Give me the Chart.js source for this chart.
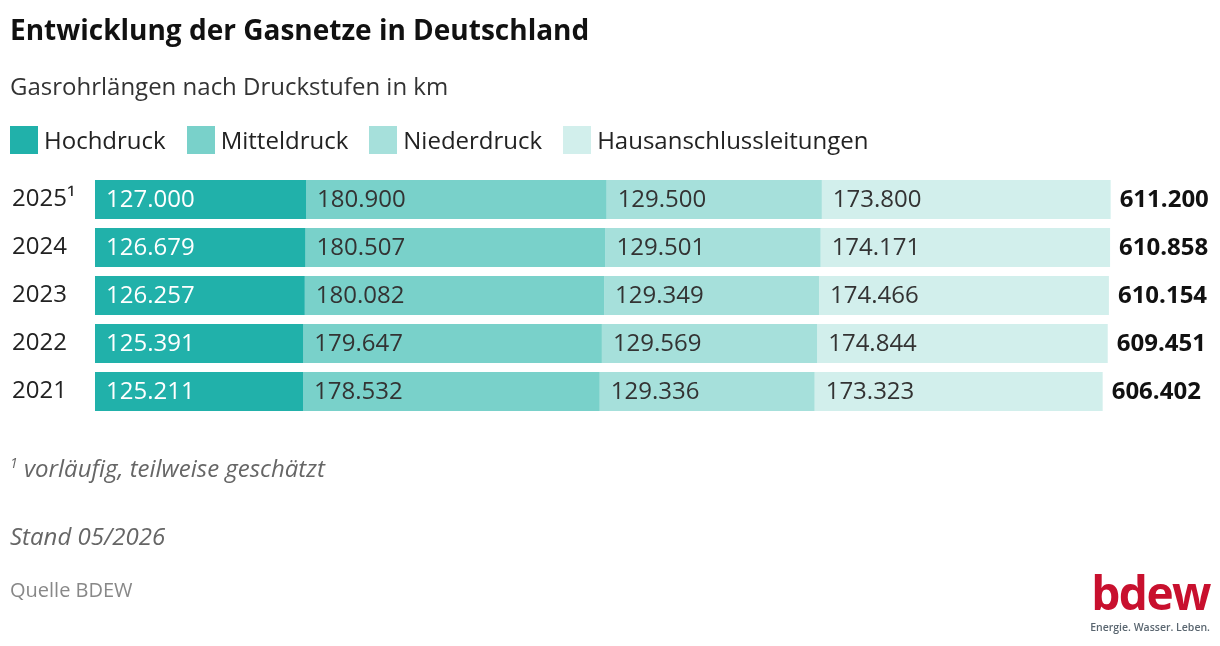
<!DOCTYPE html>
<html lang="de">
<head>
<meta charset="utf-8">
<title>Entwicklung der Gasnetze in Deutschland</title>
<script src="https://cdn.jsdelivr.net/npm/chart.js@4"></script>
<style>
  html, body { margin: 0; padding: 0; background: #fff; }
  body { width: 1220px; height: 646px; position: relative; overflow: hidden; font-family: "Open Sans", sans-serif; color: #222; }
  #chart { position: absolute; left: 0; top: 0; }
  .txt { position: absolute; white-space: nowrap; line-height: 1; }
  #title { left: 10px; top: 15px; font-size: 28px; font-weight: 700; color: #111; }
  #subtitle { left: 10px; top: 74px; font-size: 24px; color: #333; }
  #legend { position: absolute; left: 10px; top: 126px; display: flex; font-size: 24px; line-height: 1; color: #222; }
  .item { display: flex; align-items: center; margin-right: 21px; height: 28px; }
  .box { width: 28px; height: 28px; margin-right: 6px; }
  #note { left: 10px; top: 456px; font-size: 24px; font-style: italic; color: #666; }
  #stand { left: 10px; top: 524px; font-size: 24px; font-style: italic; color: #666; }
  #source { left: 10px; top: 580px; font-size: 20px; color: #888; }
  #logo { right: 10px; top: 569px; font-size: 46px; font-weight: 700; color: #c8102e; letter-spacing: -1.5px; }
  #claim { right: 10px; top: 622px; font-size: 10.5px; font-weight: 600; color: #5a6670; }
</style>
</head>
<body>
<canvas id="chart" width="1220" height="646"></canvas>
<div class="txt" id="title">Entwicklung der Gasnetze in Deutschland</div>
<div class="txt" id="subtitle">Gasrohrlängen nach Druckstufen in km</div>
<div id="legend"></div>
<div class="txt" id="note"><sup style="font-size:14px">1</sup> vorläufig, teilweise geschätzt</div>
<div class="txt" id="stand">Stand 05/2026</div>
<div class="txt" id="source">Quelle BDEW</div>
<div class="txt" id="logo">bdew</div>
<div class="txt" id="claim">Energie. Wasser. Leben.</div>
<script>
// years, newest first
const years = ["2025¹", "2024", "2023", "2022", "2021"]

// km per pressure level
const hochdruck = [127000, 126679, 126257, 125391, 125211]
const mitteldruck = [180900, 180507, 180082, 179647, 178532]
const niederdruck = [129500, 129501, 129349, 129569, 129336]
const hausanschluss = [173800, 174171, 174466, 174844, 173323]

const seriesNames = ["Hochdruck", "Mitteldruck", "Niederdruck", "Hausanschlussleitungen"]
const seriesColours = ["#21b1aa", "#79d1ca", "#a6e0db", "#d2efec"]
const labelColours = ["#ffffff", "#333333", "#333333", "#333333"]

// german thousands separator
function fmt(n) {
  return String(n).replace(/\B(?=(\d{3})+(?!\d))/g, ".")
}

// build html legend
const legend = document.getElementById("legend")
seriesNames.forEach((name, i) => {
  legend.innerHTML += `<div class="item"><div class="box" style="background:${seriesColours[i]}"></div>${name}</div>`
})

// draws the values inside the bars and the totals after them
const barLabels = {
  id: "barLabels",
  afterDatasetsDraw(chart) {
    const ctx = chart.ctx
    ctx.save()
    ctx.textBaseline = "middle"
    ctx.textAlign = "left"
    chart.data.datasets.forEach((ds, d) => {
      const meta = chart.getDatasetMeta(d)
      meta.data.forEach((bar, i) => {
        ctx.font = "24px 'Open Sans'"
        ctx.fillStyle = labelColours[d]
        ctx.fillText(fmt(ds.data[i]), bar.base + 11, bar.y + 1)
        if (d === chart.data.datasets.length - 1) {
          let total = 0
          chart.data.datasets.forEach(s => { total += s.data[i] })
          ctx.font = "bold 24px 'Open Sans'"
          ctx.fillStyle = "#111111"
          ctx.fillText(fmt(total), bar.x + 9, bar.y + 1)
        }
      })
    })
    ctx.restore()
  }
}

const allData = [hochdruck, mitteldruck, niederdruck, hausanschluss]

new Chart(document.getElementById("chart"), {
  type: "bar",
  plugins: [barLabels],
  data: {
    labels: years,
    datasets: allData.map((values, i) => ({
      label: seriesNames[i],
      data: values,
      backgroundColor: seriesColours[i],
      borderWidth: 0,
      barPercentage: 0.8125,
      categoryPercentage: 1
    }))
  },
  options: {
    indexAxis: "y",
    responsive: false,
    animation: false,
    layout: { padding: { left: 12, right: 5, top: 175.5, bottom: 230.5 } },
    plugins: {
      legend: { display: false },
      tooltip: { enabled: false }
    },
    scales: {
      x: {
        stacked: true,
        display: false,
        min: 0,
        max: 674000
      },
      y: {
        stacked: true,
        grid: { display: false },
        border: { display: false },
        afterFit: (scale) => { scale.width = 83 },
        ticks: {
          crossAlign: "far",
          padding: 0,
          color: "#222",
          font: { family: "'Open Sans'", size: 24 }
        }
      }
    }
  }
})
</script>
</body>
</html>
